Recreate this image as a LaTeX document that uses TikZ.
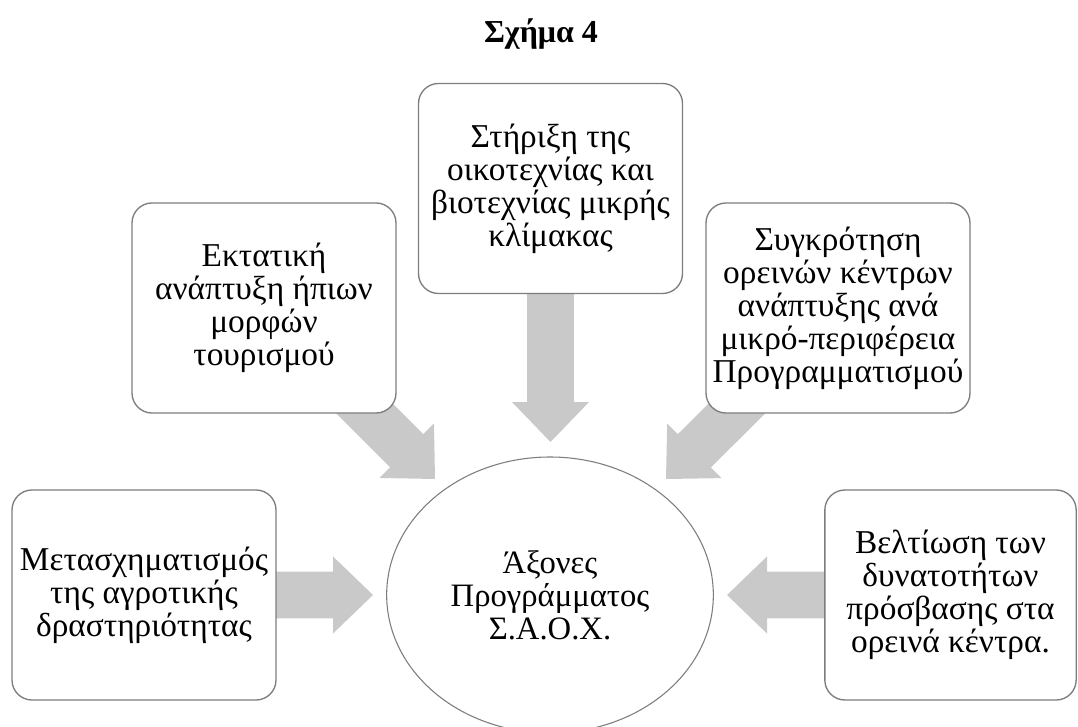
\documentclass[tikz,border=0pt]{standalone}
\usepackage{fontspec}
\setmainfont{Liberation Serif}
\usetikzlibrary{shapes.geometric,calc,backgrounds}
\definecolor{boxline}{RGB}{125,125,125}
\definecolor{arrowgray}{RGB}{201,201,201}
\newcommand\myboxfont{\fontsize{25}{24.75}\selectfont\lineskiplimit=-30pt\relax}
\newcommand\myhubfont{\fontsize{24.5}{24.75}\selectfont\lineskiplimit=-30pt\relax}
\tikzset{
  box/.style={draw=boxline, line width=1pt, fill=white, rounded corners=15pt,
    minimum width=198pt, minimum height=157.5pt, align=center, inner sep=1pt,
    font=\myboxfont},
  hub/.style={ellipse, draw=boxline, line width=0.8pt, fill=white,
    minimum width=245pt, minimum height=207pt, inner sep=0pt, align=center,
    font=\myhubfont},
  titletext/.style={font=\fontsize{24}{28}\selectfont\bfseries}
}
% block arrow from #1 (start) to #2 (tip)
\newcommand\blockarrow[2]{%
  \coordinate (ha) at ($(#2)!30pt!(#1)$);
  \fill[arrowgray]
    ($(#1)!17.6pt!90:(#2)$) --
    ($(ha)!17.6pt!-90:(#1)$) --
    ($(ha)!28.9pt!-90:(#1)$) --
    (#2) --
    ($(ha)!28.9pt!90:(#1)$) --
    ($(ha)!17.6pt!90:(#1)$) --
    ($(#1)!17.6pt!-90:(#2)$) -- cycle;
}
\begin{document}
\begin{tikzpicture}[x=0.75pt,y=-0.75pt]
\useasboundingbox (0,0) rectangle (1078,727);

\node[titletext] (title) at (541,34) {Σχήμα 4};

\node[hub] (hub) at (550,595) {Άξονες\\Προγράμματος\\Σ.Α.Ο.Χ.};

\node[box] (b1) at (144,595) {Μετασχηματισμός\\της αγροτικής\\δραστηριότητας};
\node[box] (b2) at (264,308) {Εκτατική\\ανάπτυξη ήπιων\\μορφών\\τουρισμού};
\node[box] (b3) at (550.5,188.5) {Στήριξη της\\οικοτεχνίας και\\βιοτεχνίας μικρής\\κλίμακας};
\node[box] (b4) at (838,308) {Συγκρότηση\\ορεινών κέντρων\\ανάπτυξης ανά\\μικρό-περιφέρεια\\Προγραμματισμού};
\node[box, minimum width=188.5pt] (b5) at (950.5,595) {Βελτίωση των\\δυνατοτήτων\\πρόσβασης στα\\ορεινά κέντρα.};

\coordinate (t1) at (373,595);
\coordinate (t2) at (435,479);
\coordinate (t3) at (550.5,442);
\coordinate (t4) at (666,479);
\coordinate (t5) at (727,595);

\begin{scope}[on background layer]
  \blockarrow{b1.center}{t1}
  \blockarrow{b2.center}{t2}
  \blockarrow{b3.center}{t3}
  \blockarrow{b4.center}{t4}
  \blockarrow{b5.center}{t5}
\end{scope}
\end{tikzpicture}
\end{document}
